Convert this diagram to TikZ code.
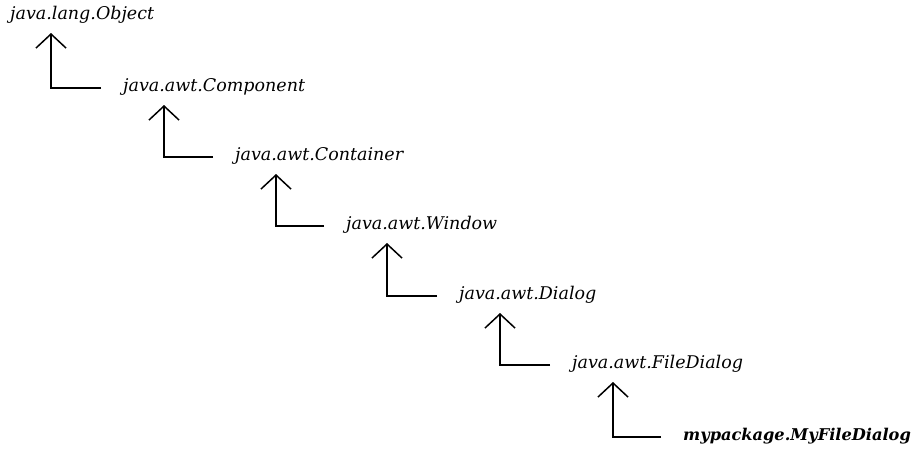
\documentclass[tikz,border=0pt]{standalone}
\usepackage{fontspec}
\setmainfont{DejaVu Serif}
\usetikzlibrary{arrows.meta,calc}
\tikzset{
  cls/.style={anchor=west,inner sep=0pt,font=\fontsize{17.5}{20}\selectfont\itshape},
  mine/.style={cls,font=\fontsize{16.2}{20}\selectfont\bfseries\itshape},
  inh/.style={line width=1.5pt,-{Straight Barb[length=14pt,width=30pt,line width=1.5pt]}}
}
\begin{document}
\begin{tikzpicture}[x=1pt,y=-1pt]
\useasboundingbox (0,0) rectangle (914,450);
\node[cls] (o) at (10,15) {java.lang.Object};
\node[cls] (c1) at (123,87) {java.awt.Component};
\node[cls] (c2) at (235,156) {java.awt.Container};
\node[cls] (c3) at (346,225) {java.awt.Window};
\node[cls] (c4) at (459,295) {java.awt.Dialog};
\node[cls] (c5) at (572,364) {java.awt.FileDialog};
\node[mine] (c6) at (683,436) {mypackage.MyFileDialog};
\foreach \p/\c in {o/c1,c1/c2,c2/c3,c3/c4,c4/c5,c5/c6}{
  \draw[inh] ($(\c.west)+(-22,1)$) -| ($(\p.west)+(41,18)$);
}
\end{tikzpicture}
\end{document}
